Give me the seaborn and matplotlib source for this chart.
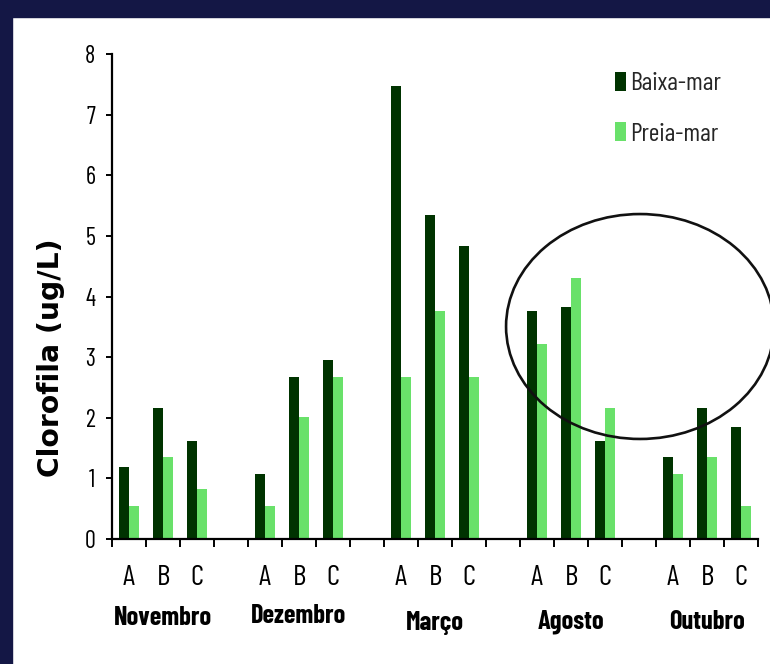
import numpy as np
import pandas as pd
import matplotlib
matplotlib.use("Agg")
import matplotlib.pyplot as plt
from matplotlib.patches import Ellipse, Rectangle
import seaborn as sns

# Chlorophyll (ug/L) per month and site, low tide vs high tide
months = ["Novembro", "Dezembro", "Março", "Agosto", "Outubro"]
sites = ["A", "B", "C"]
tides = ["Baixa-mar", "Preia-mar"]
baixa_mar = [1.18, 2.16, 1.62,
             1.08, 2.67, 2.96,
             7.47, 5.35, 4.84,
             3.76, 3.83, 1.62,
             1.36, 2.16, 1.84]
preia_mar = [0.54, 1.36, 0.82,
             0.54, 2.02, 2.67,
             2.67, 3.76, 2.67,
             3.22, 4.30, 2.16,
             1.08, 1.36, 0.54]

sns.set_theme(style="white")
narrow = ["Barlow Condensed", "DejaVu Sans"]
plt.rcParams["font.family"] = narrow

# one slot per site, with an empty slot between consecutive months
order = []
for i, m in enumerate(months):
    order += [f"{m}-{s}" for s in sites]
    if i < len(months) - 1:
        order.append(f"gap{i}")

rows = []
for i, m in enumerate(months):
    for j, s in enumerate(sites):
        k = i * 3 + j
        rows.append({"slot": f"{m}-{s}", "Maré": tides[0], "valor": baixa_mar[k]})
        rows.append({"slot": f"{m}-{s}", "Maré": tides[1], "valor": preia_mar[k]})
df = pd.DataFrame(rows)

W, H = 770, 664
fig = plt.figure(figsize=(W / 100, H / 100), dpi=100)
fig.patch.set_facecolor("white")

# dark frame strips along the top and left edges
navy = "#141745"
fig.add_artist(Rectangle((0, 0), 12 / W, 1, transform=fig.transFigure, color=navy, zorder=0))
fig.add_artist(Rectangle((0, 1 - 17 / H), 1, 17 / H, transform=fig.transFigure, color=navy, zorder=0))

ax_l, ax_r, ax_b, ax_t = 112, 758, 539, 54
ax = fig.add_axes([ax_l / W, (H - ax_b) / H, (ax_r - ax_l) / W, (ax_b - ax_t) / H])

palette = {"Baixa-mar": "#003300", "Preia-mar": "#69E16A"}
sns.barplot(data=df, x="slot", y="valor", hue="Maré", order=order, hue_order=tides,
            palette=palette, width=0.58, saturation=1, errorbar=None, ax=ax,
            linewidth=0)

ax.set_xlim(-0.5, len(order) - 0.5)
ax.set_ylim(0, 8)
ax.set_yticks(range(0, 9))
ax.set_yticklabels([str(v) for v in range(0, 9)], fontsize=17.5)
ax.set_xticks(np.arange(-0.5, len(order), 1.0))
ax.set_xticklabels([])
ax.set_xlabel("")
ax.set_ylabel("")

for side in ["top", "right"]:
    ax.spines[side].set_visible(False)
for side in ["left", "bottom"]:
    ax.spines[side].set_color("black")
    ax.spines[side].set_linewidth(1.6)
ax.tick_params(axis="y", direction="out", length=4, width=1.4, color="black", pad=8,
               left=True, labelcolor="black")
ax.tick_params(axis="x", direction="out", length=6, width=1.4, color="black", bottom=True)

# site labels and month labels under the axis
px_to_ax = lambda py: (ax_b - py) / (ax_b - ax_t)
trans = ax.get_xaxis_transform()
month_baselines = [625, 623, 630, 628, 629]
for i, m in enumerate(months):
    for j, s in enumerate(sites):
        x = order.index(f"{m}-{s}")
        ax.text(x, px_to_ax(585), s, transform=trans, ha="center", va="baseline",
                fontsize=21, color="black")
    xc = order.index(f"{m}-B")
    ax.text(xc, px_to_ax(month_baselines[i]), m, transform=trans, ha="center",
            va="baseline", fontsize=19, fontweight="bold", color="black")

# highlight around the August samples
ax.add_patch(Ellipse((15.03, 3.505), 7.88, 3.71, fill=False, edgecolor="#111111",
                     linewidth=1.9, clip_on=False, zorder=5))

handles, labels = ax.get_legend_handles_labels()
ax.legend(handles, labels, loc="upper left", bbox_to_anchor=(615 / W, 1 - 72 / H),
          bbox_transform=fig.transFigure, frameon=False, fontsize=18.5,
          handlelength=0.42, handleheight=0.75, handletextpad=0.15,
          labelspacing=1.05, borderpad=0, borderaxespad=0)

fig.text(51 / W, (H - 357.5) / H, "Clorofila (ug/L)", rotation=90, ha="center", va="center",
         fontsize=20.3, fontweight="bold", family=["DejaVu Sans"], color="black")

fig.savefig("out.png", dpi=100, facecolor="white")
